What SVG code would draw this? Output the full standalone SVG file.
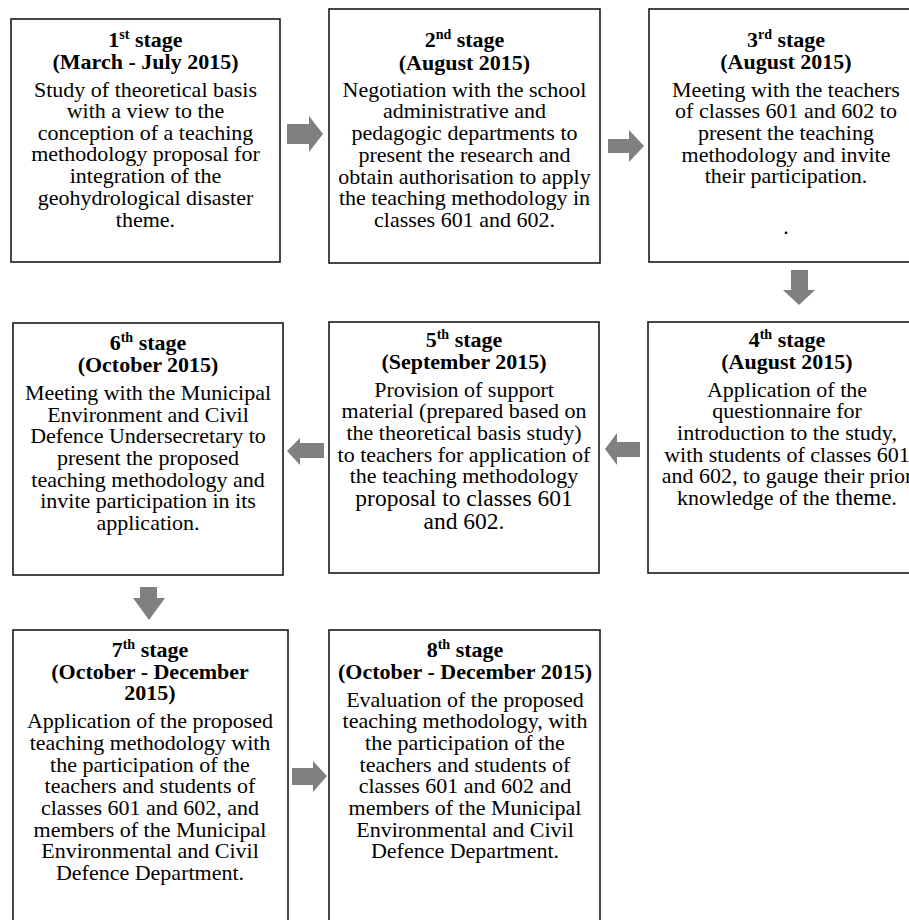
<svg xmlns="http://www.w3.org/2000/svg" width="909" height="920" viewBox="0 0 909 920">
<style>
.box{fill:#fff;stroke:#1a1a1a;stroke-width:1.6}
.arr{fill:#808080}
text{font-family:"Liberation Serif","Times New Roman",serif;font-size:22px;fill:#000;text-anchor:middle}
.h{font-weight:bold}
.sup{font-size:14px}
</style>
<rect width="909" height="920" fill="#fff"/>
<g id="connectors">
<polygon class="arr" points="287,124 309,124 309,116 323,134 309,152 309,144 287,144"/>
<polygon class="arr" points="608,139 629,139 629,130 644,146 629,162 629,153 608,153"/>
<polygon class="arr" points="791,270 808,270 808,290 815,290 799,305 783,290 791,290"/>
<polygon class="arr" points="640,442 617,442 617,433 605,449 617,465 617,457 640,457"/>
<polygon class="arr" points="324,443 300,443 300,438 287,451 300,465 300,458 324,458"/>
<polygon class="arr" points="140,587 157,587 157,598 165,598 149,620 133,598 140,598"/>
<polygon class="arr" points="292,768 313,768 313,761 327,776 313,792 313,785 292,785"/>
</g>
<g id="stage1">
<rect class="box" x="11" y="19" width="269" height="243"/>
<text class="h" x="145.5" y="47">1<tspan class="sup" dy="-8">st</tspan><tspan dy="8"> stage</tspan></text>
<text class="h" x="145.5" y="69">(March - July 2015)</text>
<text x="145.5" y="97">Study of theoretical basis</text>
<text x="145.5" y="118">with a view to the</text>
<text x="145.5" y="140">conception of a teaching</text>
<text x="145.5" y="161">methodology proposal for</text>
<text x="145.5" y="183">integration of the</text>
<text x="145.5" y="205">geohydrological disaster</text>
<text x="145.5" y="227">theme.</text>
</g>
<g id="stage2">
<rect class="box" x="329" y="9" width="271" height="254"/>
<text class="h" x="464.5" y="47">2<tspan class="sup" dy="-8">nd</tspan><tspan dy="8"> stage</tspan></text>
<text class="h" x="464.5" y="70">(August 2015)</text>
<text x="464.5" y="97">Negotiation with the school</text>
<text x="464.5" y="118">administrative and</text>
<text x="464.5" y="140">pedagogic departments to</text>
<text x="464.5" y="162">present the research and</text>
<text x="464.5" y="184">obtain authorisation to apply</text>
<text x="464.5" y="205">the teaching methodology in</text>
<text x="464.5" y="227">classes 601 and 602.</text>
</g>
<g id="stage3">
<rect class="box" x="649" y="9" width="280" height="253"/>
<text class="h" x="786" y="47">3<tspan class="sup" dy="-8">rd</tspan><tspan dy="8"> stage</tspan></text>
<text class="h" x="786" y="69">(August 2015)</text>
<text x="786" y="97">Meeting with the teachers</text>
<text x="786" y="118">of classes 601 and 602 to</text>
<text x="786" y="140">present the teaching</text>
<text x="786" y="162">methodology and invite</text>
<text x="786" y="183">their participation.</text>
<text x="786" y="234">.</text>
</g>
<g id="stage4">
<rect class="box" x="648" y="322" width="280" height="251"/>
<text class="h" x="787" y="347">4<tspan class="sup" dy="-8">th</tspan><tspan dy="8"> stage</tspan></text>
<text class="h" x="787" y="369">(August 2015)</text>
<text x="787" y="397">Application of the</text>
<text x="787" y="418">questionnaire for</text>
<text x="787" y="440">introduction to the study,</text>
<text x="787" y="462">with students of classes 601</text>
<text x="787" y="483">and 602, to gauge their prior</text>
<text x="787" y="505">knowledge of the <tspan style="font-size:23px">theme.</tspan></text>
</g>
<g id="stage5">
<rect class="box" x="329" y="322" width="270" height="251"/>
<text class="h" x="464" y="347">5<tspan class="sup" dy="-8">th</tspan><tspan dy="8"> stage</tspan></text>
<text class="h" x="464" y="369">(September 2015)</text>
<text x="464" y="397">Provision of support</text>
<text x="464" y="418">material (prepared based on</text>
<text x="464" y="440">the theoretical basis study)</text>
<text x="464" y="462">to teachers for application of</text>
<text x="464" y="483">the teaching methodology</text>
<text x="464" y="506" style="font-size:23.5px">proposal to classes 601</text>
<text x="464" y="529" style="font-size:23.5px">and 602.</text>
</g>
<g id="stage6">
<rect class="box" x="13" y="323" width="270" height="252"/>
<text class="h" x="148" y="350">6<tspan class="sup" dy="-8">th</tspan><tspan dy="8"> stage</tspan></text>
<text class="h" x="148" y="372">(October 2015)</text>
<text x="148" y="400">Meeting with the Municipal</text>
<text x="148" y="422">Environment and Civil</text>
<text x="148" y="443">Defence Undersecretary to</text>
<text x="148" y="465">present the proposed</text>
<text x="148" y="487">teaching methodology and</text>
<text x="148" y="508">invite participation in its</text>
<text x="148" y="530">application.</text>
</g>
<g id="stage7">
<rect class="box" x="13" y="630" width="275" height="300"/>
<text class="h" x="150" y="657">7<tspan class="sup" dy="-8">th</tspan><tspan dy="8"> stage</tspan></text>
<text class="h" x="150" y="679">(October - December</text>
<text class="h" x="150" y="700">2015)</text>
<text x="150" y="728">Application of the proposed</text>
<text x="150" y="750">teaching methodology with</text>
<text x="150" y="772">the participation of the</text>
<text x="150" y="793">teachers and students of</text>
<text x="150" y="815">classes 601 and 602, and</text>
<text x="150" y="837">members of the Municipal</text>
<text x="150" y="858">Environmental and Civil</text>
<text x="150" y="880">Defence Department.</text>
</g>
<g id="stage8">
<rect class="box" x="329" y="630" width="271" height="300"/>
<text class="h" x="465" y="657">8<tspan class="sup" dy="-8">th</tspan><tspan dy="8"> stage</tspan></text>
<text class="h" x="465" y="679">(October - December 2015)</text>
<text x="465" y="707">Evaluation of the proposed</text>
<text x="465" y="728">teaching methodology, with</text>
<text x="465" y="750">the participation of the</text>
<text x="465" y="772">teachers and students of</text>
<text x="465" y="793">classes 601 and 602 and</text>
<text x="465" y="815">members of the Municipal</text>
<text x="465" y="837">Environmental and Civil</text>
<text x="465" y="858">Defence Department.</text>
</g>
</svg>
